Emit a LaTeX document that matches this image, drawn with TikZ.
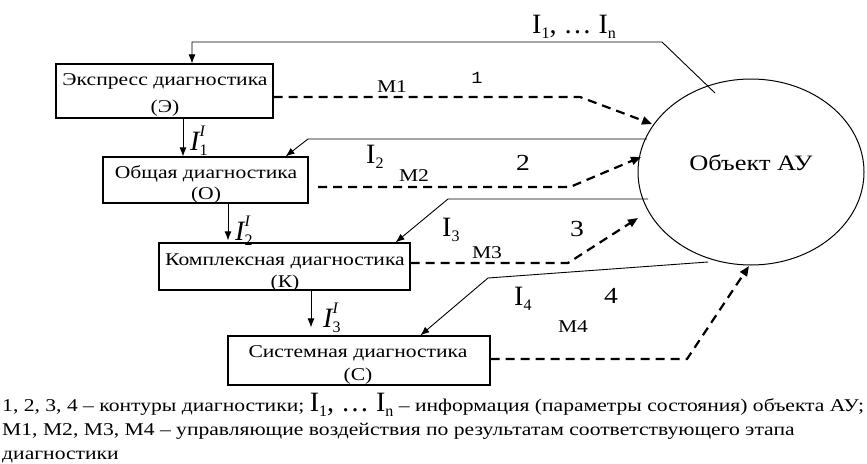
\documentclass[tikz,border=0pt]{standalone}
\usepackage{fontspec}
\setmainfont[FakeStretch=1.2]{Liberation Serif}
\newfontfamily\plainserif{Liberation Serif}
\newfontfamily\digitmono[FakeStretch=1.1]{Liberation Mono}
\usetikzlibrary{shapes.geometric,arrows.meta}

% big upright I with a lowered index
\newcommand\bigI[1]{I\raisebox{-0.2em}{\fontsize{16}{16}\selectfont #1}}
% the range I_1, ... I_n set large
\newcommand\Irange{{\plainserif\fontsize{28}{28}\selectfont\bigI{1}, … \bigI{n}}}
% italic I with index below and italic I above
\newcommand\stageI[1]{{\fontsize{28}{28}\selectfont\itshape I\rlap{\raisebox{0.5em}{\fontsize{16}{16}\selectfont I}}\raisebox{-0.2em}{\fontsize{16}{16}\selectfont\upshape #1}}}

\tikzset{
  box/.style={draw, line width=1.2pt, inner sep=0pt},
  btext/.style={anchor=base, inner sep=0pt, font=\fontsize{18}{18}\selectfont},
  info/.style={line width=0.9pt},
  infoarrow/.style={info, -{Latex[length=9pt,width=7pt]}},
  ctrl/.style={line width=2.2pt, dash pattern=on 9pt off 6pt, -{Triangle[length=10pt,width=8pt]}},
  mlabel/.style={anchor=base, inner sep=0pt, font=\fontsize{18}{18}\selectfont},
  numlabel/.style={anchor=base, inner sep=0pt, font=\fontsize{23}{23}\selectfont},
  ilabel/.style={anchor=base west, inner sep=0pt, font=\plainserif\fontsize{28}{28}\selectfont},
  note/.style={anchor=base west, inner sep=0pt, font=\fontsize{18}{18}\selectfont}
}

\begin{document}
\begin{tikzpicture}[x=1pt, y=-1pt]
\useasboundingbox (0,0) rectangle (867,463);
\fill[white] (0,0) rectangle (867,463);

% diagnostic stages
\node[box, minimum width=217pt, minimum height=54pt] (e) at (164.5,91) {};
\node[box, minimum width=205pt, minimum height=46pt] (o) at (205.5,180) {};
\node[box, minimum width=251pt, minimum height=47pt] (k) at (284.5,266.5) {};
\node[box, minimum width=262pt, minimum height=49pt] (s) at (359,360.5) {};

\node[btext] (e1) at (165,85) {Экспресс диагностика};
\node[btext] (e2) at (165,112) {(Э)};
\node[btext] (o1) at (206,178) {Общая диагностика};
\node[btext] (o2) at (206,199) {(О)};
\node[btext] (k1) at (285,265) {Комплексная диагностика};
\node[btext] (k2) at (285,287) {(К)};
\node[btext] (s1) at (358,357) {Системная диагностика};
\node[btext] (s2) at (358,380) {(С)};

% controlled object
\node[draw, ellipse, line width=1pt, minimum width=226pt, minimum height=186pt, inner sep=0pt] (obj) at (751,172) {};
\node[anchor=base, inner sep=0pt, font=\fontsize{22}{22}\selectfont] (objt) at (751,170) {Объект АУ};

% information from the object
\coordinate (in1) at (715,93);
\coordinate (b1) at (662,42);
\coordinate (c1) at (192,42);
\draw[infoarrow] (in1) -- (b1) -- (c1) -- (c1 |- e.north);

\coordinate (in2) at (647,139);
\coordinate (b2) at (308,139);
\draw[infoarrow] (in2) -- (b2) -- ([xshift=-23pt]o.north east);

\coordinate (in3) at (648,199);
\coordinate (b3) at (448,199);
\draw[infoarrow] (in3) -- (b3) -- ([xshift=-15pt]k.north east);

\coordinate (in4) at (708,262);
\coordinate (b4) at (488,278);
\draw[infoarrow] (in4) -- (b4) -- ([xshift=193pt]s.north west);

% stage to stage
\coordinate (v1) at (183,0);
\coordinate (v2) at (228,0);
\coordinate (v3) at (311,0);
\draw[infoarrow] (v1 |- e.south) -- (v1 |- o.north);
\draw[infoarrow, shorten >=2pt] (v2 |- o.south) -- (v2 |- k.north);
\draw[infoarrow, shorten >=8pt] (v3 |- k.south) -- (v3 |- s.north);

% control actions
\coordinate (m1b) at (580,97);
\coordinate (m1t) at (652,124);
\draw[ctrl] (e.east |- m1b) -- (m1b) -- (m1t);

\coordinate (m2a) at (318,187);
\coordinate (m2b) at (570,187);
\coordinate (m2t) at (641,157);
\draw[ctrl] (m2a) -- (m2b) -- (m2t);

\coordinate (m3b) at (568,263);
\coordinate (m3t) at (638,218);
\draw[ctrl] (k.east |- m3b) -- (m3b) -- (m3t);

\coordinate (m4b) at (687,359);
\coordinate (m4t) at (749,266);
\draw[ctrl] (s.east |- m4b) -- (m4b) -- (m4t);

% labels
\node[ilabel] (lin) at (532,33) {\Irange};
\node[ilabel] (li2) at (366,163) {\bigI{2}};
\node[ilabel] (li3) at (442,236) {\bigI{3}};
\node[ilabel] (li4) at (514,305) {\bigI{4}};

\node[ilabel] (ls1) at (190,150) {\stageI{1}};
\node[ilabel] (ls2) at (235,240) {\stageI{2}};
\node[ilabel] (ls3) at (323,327) {\stageI{3}};

\node[mlabel] (lm1) at (392,92) {M1};
\node[mlabel] (lm2) at (414,181) {M2};
\node[mlabel] (lm3) at (487,258) {M3};
\node[mlabel] (lm4) at (573,332) {M4};

\node[anchor=base, inner sep=0pt, font=\digitmono\fontsize{17}{17}\selectfont] (n1) at (477,83) {1};
\node[numlabel] (n2) at (523,170) {2};
\node[numlabel] (n3) at (577,236) {3};
\node[numlabel] (n4) at (611,303) {4};

% legend
\node[note] (t1) at (2,411) {1, 2, 3, 4 – контуры диагностики; \Irange{} – информация (параметры состояния) объекта АУ;};
\node[note] (t2) at (2,435) {M1, M2, M3, M4 – управляющие воздействия по результатам соответствующего этапа};
\node[note] (t3) at (2,459) {диагностики};
\end{tikzpicture}
\end{document}
